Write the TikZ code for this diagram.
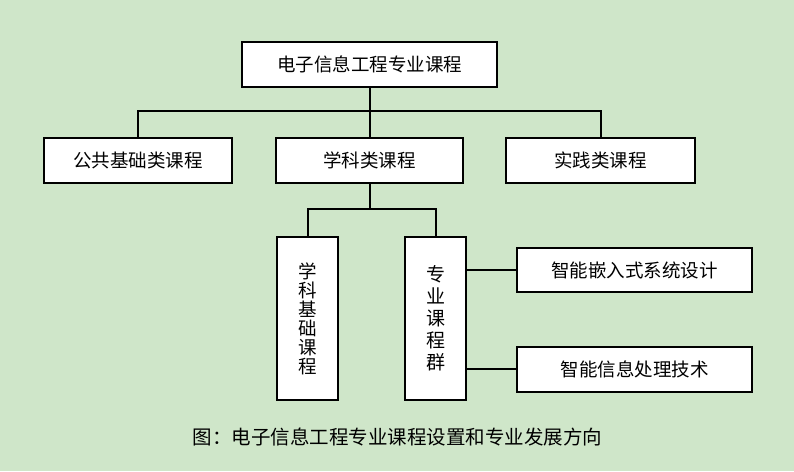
\documentclass[tikz,border=0pt]{standalone}
\usepackage{fontspec}
\newfontfamily\cjk{Noto Sans CJK SC}
\usetikzlibrary{positioning}
\definecolor{pagegreen}{RGB}{207,230,201}
\colorlet{boxbgcolor}{white}

\begin{document}
\begin{tikzpicture}[x=1pt, y=-1pt,
    box/.style={draw, rectangle, line width = 2pt, fill = boxbgcolor, text = black, align = center, inner sep = 0pt, font = \cjk\fontsize{18.5}{19}\selectfont},
    link/.style={line width = 2pt}]
      \fill[pagegreen] (0,0) rectangle (794,471);
      \useasboundingbox (0,0) rectangle (794,471);
      \node[box, minimum width = 255pt, minimum height = 45pt] at (369.5, 64.5) (t) {电子信息工程专业课程};

      \node[box, minimum width = 188pt, minimum height = 45pt] at (138, 160.5) (pub) {公共基础类课程};
      \node[box, minimum width = 187pt, minimum height = 45pt] at (369.5, 160.5) (sub) {学科类课程};
      \node[box, minimum width = 189pt, minimum height = 45pt] at (600.5, 160.5) (prac) {实践类课程};

      \node[box, minimum width = 61pt, minimum height = 163pt] at (307.5, 318.5) (base) {学\\科\\基\\础\\课\\程};
      \node[box, minimum width = 61pt, minimum height = 163pt, font = \cjk\fontsize{19}{22}\selectfont] at (435.5, 318.5) (grp) {专\\业\\课\\程\\群};

      \node[box, minimum width = 235pt, minimum height = 44pt] at (634.5, 270) (emb) {智能嵌入式系统设计};
      \node[box, minimum width = 235pt, minimum height = 45pt] at (634.5, 369) (proc) {智能信息处理技术};

      \coordinate (bus1) at (369.5, 111);
      \coordinate (bus2) at (369.5, 209);
      \draw[link] (t.south) -- (bus1);
      \draw[link] (pub.north) |- (bus1) -| (prac.north);
      \draw[link] (bus1) -- (sub.north);
      \draw[link] (sub.south) -- (bus2);
      \draw[link] (base.north) |- (bus2) -| (grp.north);
      \draw[link] (grp.east |- emb.west) -- (emb.west);
      \draw[link] (grp.east |- proc.west) -- (proc.west);

      \node[font = \cjk\fontsize{19.5}{20}\selectfont, text = black] at (397.5, 437) (cap) {图：电子信息工程专业课程设置和专业发展方向};
    \end{tikzpicture}
\end{document}
